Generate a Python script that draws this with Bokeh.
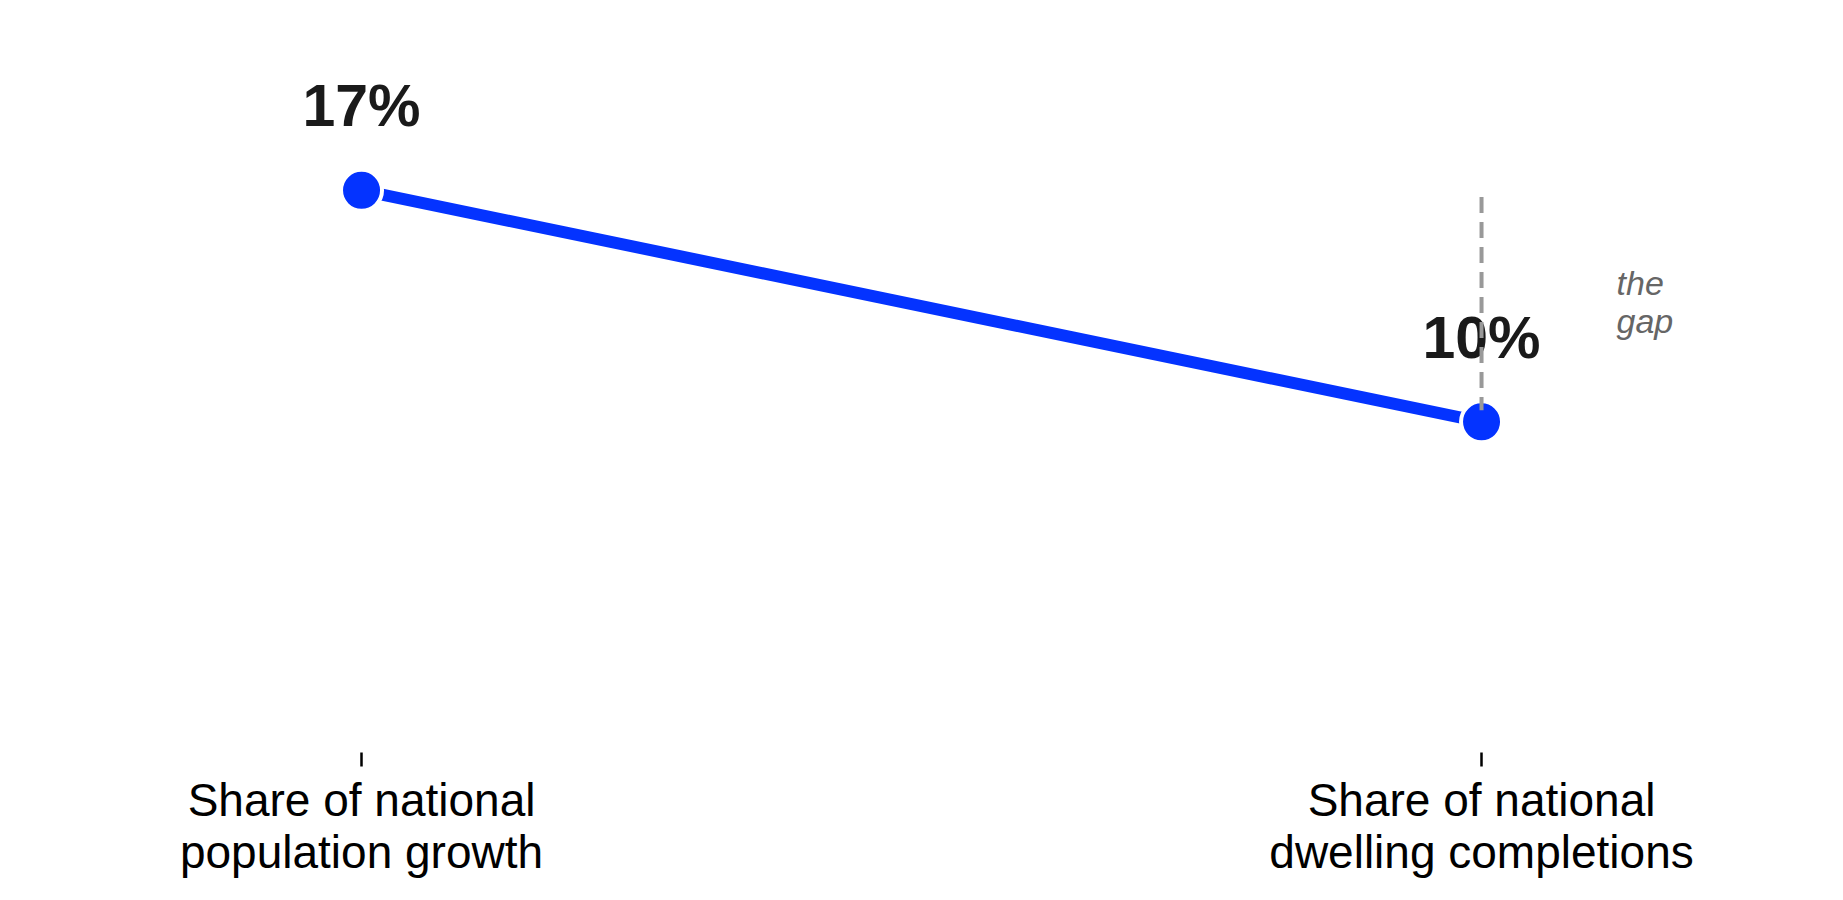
from bokeh.plotting import figure
from bokeh.models import Range1d, FixedTicker, ColumnDataSource
from bokeh.core.properties import value
from bokeh.embed import file_html
from bokeh.resources import INLINE

# ---- data ----
categories = ["Share of national\npopulation growth", "Share of national\ndwelling completions"]
positions = [0, 1]
shares = [17, 10]
share_labels = ["17%", "10%"]
gap_text = "the\ngap"
gap_span = [16.8, 10.35]

BLUE = "#0433FF"
FONT = "Liberation Sans"

p = figure(frame_width=1820, frame_height=744,
           x_range=Range1d(-0.3161, 1.3089), y_range=Range1d(0, 22.5),
           output_backend="svg", toolbar_location=None,
           min_border_left=7, min_border_right=0, min_border_top=8, min_border_bottom=0)
p.outline_line_color = None
p.background_fill_color = None
p.border_fill_color = None
p.grid.visible = False
p.yaxis.visible = False

ax = p.xaxis[0]
ax.ticker = FixedTicker(ticks=positions)
ax.major_label_overrides = {pos: cat for pos, cat in zip(positions, categories)}
ax.axis_line_color = None
ax.minor_tick_line_color = None
ax.major_tick_in = 0
ax.major_tick_out = 14
ax.major_tick_line_width = 2.5
ax.major_tick_line_color = "#000000"
ax.major_label_text_font = FONT
ax.major_label_text_font_size = "46px"
ax.major_label_text_color = "#000000"
ax.major_label_text_line_height = 1.0
ax.major_label_standoff = 7

src = ColumnDataSource(dict(x=positions, y=shares, lab=share_labels))

p.line("x", "y", source=src, line_color=BLUE, line_width=12)
p.scatter("x", "y", source=src, size=41, fill_color=BLUE, line_color="white", line_width=4)

p.text("x", "y", text="lab", source=src, text_align="center", text_baseline="alphabetic",
       y_offset=-84, text_font=value(FONT), text_font_style="bold",
       text_font_size="59px", text_color="#1a1a1a")

p.segment(x0=[positions[1]], y0=[gap_span[0]], x1=[positions[1]], y1=[gap_span[1]],
          line_color="#999999", line_width=4, line_dash="16 9")

p.text(x=[positions[1]], y=[(shares[0] + shares[1]) / 2], text=[gap_text],
       x_offset=135, y_offset=-4, text_align="left", text_baseline="middle",
       text_font=value(FONT), text_font_style="italic", text_font_size="34px",
       text_color="#666666", text_line_height=1.02)

open("out.html", "w").write(file_html(p, INLINE))
